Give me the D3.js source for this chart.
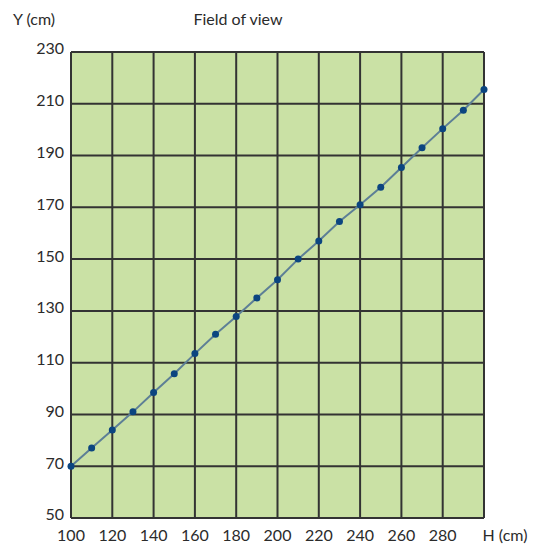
<!DOCTYPE html>
<html>
<head>
<meta charset="utf-8">
<script src="https://cdn.jsdelivr.net/npm/d3@7"></script>
<style>
  body { margin: 0; background: #fff; }
  text { font-family: "Lato", "Open Sans", sans-serif; fill: #2b2b2b; }
</style>
</head>
<body>
<div id="chart"></div>
<script>
// field of view readings (H in cm, Y in cm)
const heights = [100, 110, 120, 130, 140, 150, 160, 170, 180, 190, 200,
                 210, 220, 230, 240, 250, 260, 270, 280, 290, 300];
const fieldY = [70, 77, 84, 91, 98.5, 105.7, 113.5, 121, 127.8, 135, 142,
                150, 157, 164.5, 171, 177.8, 185.4, 193, 200.4, 207.5, 215.5];
const xTicks = [100, 120, 140, 160, 180, 200, 220, 240, 260, 280];
const yTicks = [50, 70, 90, 110, 130, 150, 170, 190, 210, 230];

const size = { x: 534, y: 547 };
const margin = { top: 52, bottom: 29, left: 71, right: 50 };
const fontSize = 16;

const xScale = d3.scaleLinear()
  .domain([100, 300])
  .range([margin.left, size.x - margin.right]);

const yScale = d3.scaleLinear()
  .domain([50, 230])
  .range([size.y - margin.bottom, margin.top]);

const svg = d3.select("#chart")
  .append("svg")
  .attr("width", size.x)
  .attr("height", size.y);

// plot background
svg.append("rect")
  .attr("x", xScale(100))
  .attr("y", yScale(230))
  .attr("width", xScale(300) - xScale(100))
  .attr("height", yScale(50) - yScale(230))
  .attr("fill", "#cae1a5");

// grid
const gridColor = "#333";
svg.append("g")
  .selectAll("line")
  .data(xTicks.concat([300]))
  .enter()
  .append("line")
  .attr("x1", d => xScale(d))
  .attr("x2", d => xScale(d))
  .attr("y1", yScale(230))
  .attr("y2", yScale(50))
  .attr("stroke", gridColor)
  .attr("stroke-width", 2);

svg.append("g")
  .selectAll("line")
  .data(yTicks)
  .enter()
  .append("line")
  .attr("x1", xScale(100))
  .attr("x2", xScale(300))
  .attr("y1", d => yScale(d))
  .attr("y2", d => yScale(d))
  .attr("stroke", gridColor)
  .attr("stroke-width", 2);

// axis labels
svg.append("g")
  .selectAll("text")
  .data(xTicks)
  .enter()
  .append("text")
  .attr("x", d => xScale(d))
  .attr("y", yScale(50) + 23)
  .attr("text-anchor", "middle")
  .attr("font-size", fontSize)
  .text(d => d);

svg.append("g")
  .selectAll("text")
  .data(yTicks)
  .enter()
  .append("text")
  .attr("x", xScale(100) - 7)
  .attr("y", d => yScale(d))
  .attr("dy", "0.15em")
  .attr("text-anchor", "end")
  .attr("font-size", fontSize)
  .text(d => d);

svg.append("text")
  .attr("x", 505)
  .attr("y", yScale(50) + 23)
  .attr("text-anchor", "middle")
  .attr("font-size", fontSize)
  .text("H (cm)");

svg.append("text")
  .attr("x", 13)
  .attr("y", 25)
  .attr("font-size", fontSize)
  .text("Y (cm)");

svg.append("text")
  .attr("x", 238)
  .attr("y", 25)
  .attr("text-anchor", "middle")
  .attr("font-size", fontSize)
  .text("Field of view");

// line and points
const points = heights.map((h, i) => [h, fieldY[i]]);

svg.append("path")
  .datum(points)
  .attr("d", d3.line().x(d => xScale(d[0])).y(d => yScale(d[1])))
  .attr("fill", "none")
  .attr("stroke", "#5d7f96")
  .attr("stroke-width", 2);

svg.append("g")
  .selectAll("circle")
  .data(points)
  .enter()
  .append("circle")
  .attr("cx", d => xScale(d[0]))
  .attr("cy", d => yScale(d[1]))
  .attr("r", 3.5)
  .attr("fill", "#0b4580");
</script>
</body>
</html>
